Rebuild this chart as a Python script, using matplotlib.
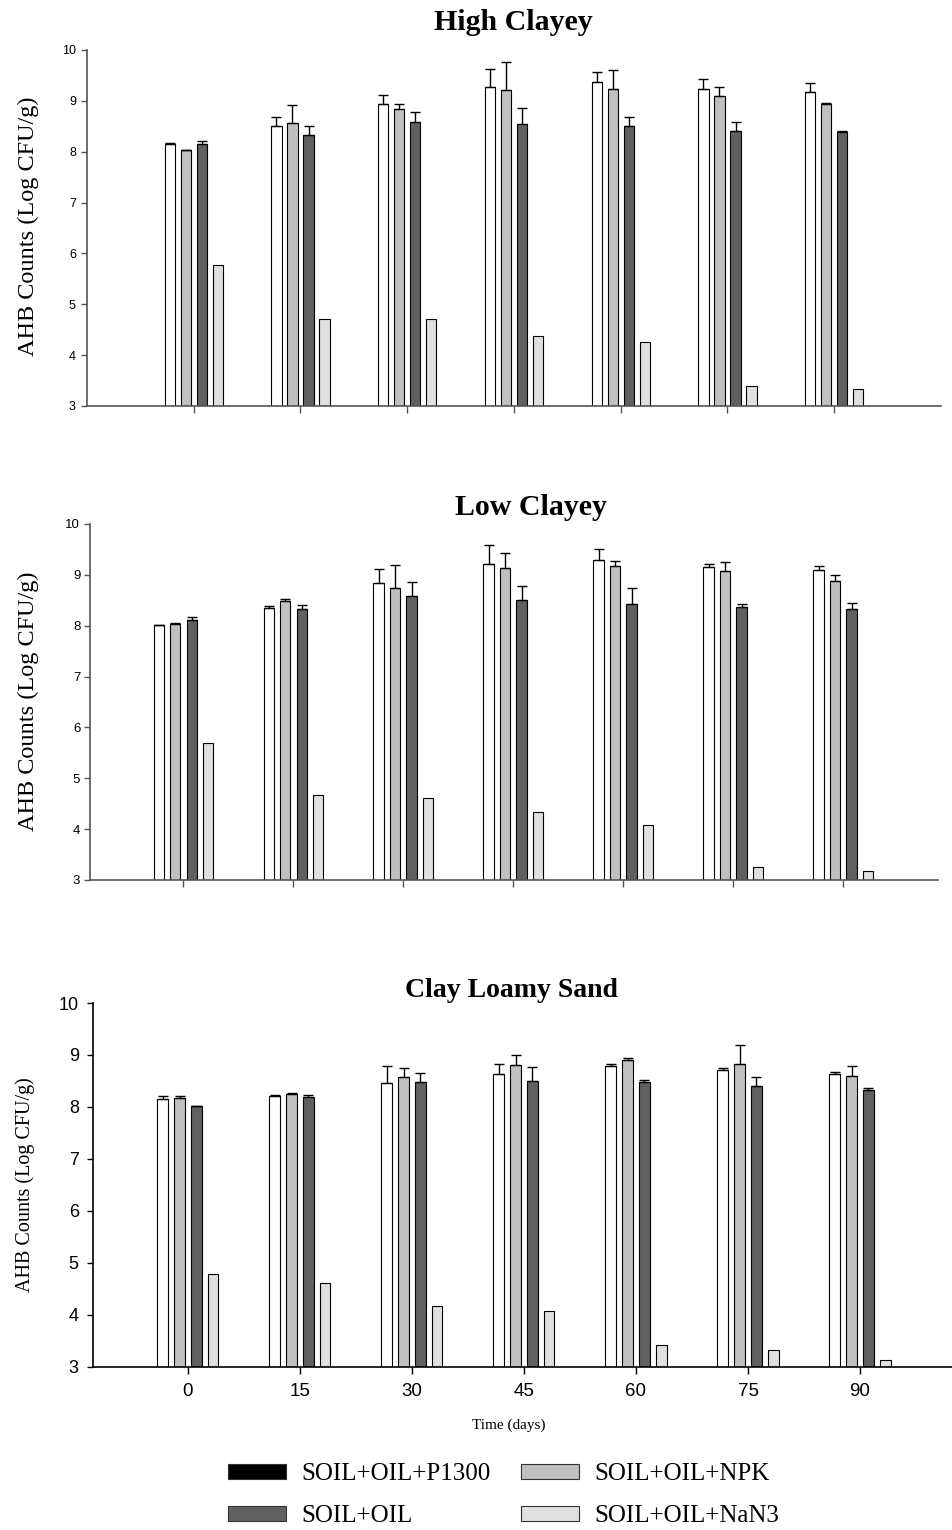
import numpy as np
import matplotlib
matplotlib.use("Agg")
import matplotlib.pyplot as plt
from matplotlib.patches import Patch

days = ["0", "15", "30", "45", "60", "75", "90"]
series_names = ["SOIL+OIL+P1300", "SOIL+OIL+NPK", "SOIL+OIL", "SOIL+OIL+NaN3"]

# High Clayey
hc_p1300 = [8.15, 8.51, 8.94, 9.27, 9.38, 9.24, 9.17]
hc_p1300_err = [0.02, 0.18, 0.18, 0.36, 0.19, 0.18, 0.18]
hc_npk = [8.03, 8.56, 8.84, 9.21, 9.23, 9.09, 8.94]
hc_npk_err = [0.01, 0.35, 0.10, 0.55, 0.37, 0.18, 0.01]
hc_oil = [8.16, 8.33, 8.58, 8.54, 8.51, 8.40, 8.39]
hc_oil_err = [0.05, 0.17, 0.21, 0.31, 0.18, 0.18, 0.01]
hc_nan3 = [5.78, 4.72, 4.72, 4.38, 4.25, 3.40, 3.34]

# Low Clayey
lc_p1300 = [8.01, 8.34, 8.84, 9.21, 9.29, 9.16, 9.10]
lc_p1300_err = [0.005, 0.04, 0.28, 0.37, 0.21, 0.06, 0.07]
lc_npk = [8.03, 8.49, 8.74, 9.14, 9.17, 9.08, 8.88]
lc_npk_err = [0.02, 0.03, 0.45, 0.28, 0.10, 0.17, 0.11]
lc_oil = [8.12, 8.33, 8.58, 8.51, 8.43, 8.37, 8.33]
lc_oil_err = [0.05, 0.08, 0.27, 0.28, 0.32, 0.05, 0.11]
lc_nan3 = [5.70, 4.67, 4.61, 4.33, 4.08, 3.26, 3.18]

# Clay Loamy Sand
cls_p1300 = [8.16, 8.21, 8.46, 8.64, 8.78, 8.72, 8.63]
cls_p1300_err = [0.05, 0.02, 0.32, 0.18, 0.04, 0.03, 0.05]
cls_npk = [8.18, 8.25, 8.57, 8.81, 8.90, 8.83, 8.59]
cls_npk_err = [0.03, 0.01, 0.18, 0.18, 0.05, 0.36, 0.19]
cls_oil = [8.02, 8.20, 8.48, 8.50, 8.48, 8.41, 8.33]
cls_oil_err = [0.005, 0.02, 0.18, 0.27, 0.04, 0.17, 0.04]
cls_nan3 = [4.79, 4.62, 4.16, 4.07, 3.42, 3.33, 3.12]

panels = [
    ("High Clayey", [hc_p1300, hc_npk, hc_oil, hc_nan3], [hc_p1300_err, hc_npk_err, hc_oil_err, None]),
    ("Low Clayey", [lc_p1300, lc_npk, lc_oil, lc_nan3], [lc_p1300_err, lc_npk_err, lc_oil_err, None]),
    ("Clay Loamy Sand", [cls_p1300, cls_npk, cls_oil, cls_nan3], [cls_p1300_err, cls_npk_err, cls_oil_err, None]),
]

W, H = 953, 1530
fig = plt.figure(figsize=(W / 100, H / 100), dpi=100)

def fx(px):
    return px / W

def fy(py):
    return 1 - py / H

# axes pixel boxes: left, right, top, bottom
boxes = [(87, 941, 50, 406), (90, 938, 524, 880), (92.7, 953, 1003, 1366.7)]
xlims = [(-1.0, 7.0), (-0.85, 6.86), (-0.85, 6.83)]
title_pos = [(513, 30), (531, 515), (511.5, 997)]
title_sizes = [21.5, 21.5, 20]
ylabel_pos = [(28, 226.5), (28, 701.5), (25, 1185)]
ylabel_sizes = [17.5, 17.5, 14.5]
ytick_sizes = [9, 9.5, 13]
ytick_pads = [4, 3, 6]
spine_colors = ["#555555", "#555555", "black"]

fills = ["white", "#c0c0c0", "#606060", "#e0e0e0"]
offsets = [-0.225, -0.075, 0.075, 0.225]
width = 0.095
serif = ["Liberation Serif", "DejaVu Serif"]
sans = ["Liberation Sans", "DejaVu Sans"]

x = np.arange(len(days))
for i, (title, vals, errs) in enumerate(panels):
    l, r, t, b = boxes[i]
    ax = fig.add_axes([fx(l), fy(b), fx(r - l), fy(t) - fy(b)])
    for j in range(4):
        v = np.array(vals[j])
        ax.bar(x + offsets[j], v - 3, width=width, bottom=3, color=fills[j],
               edgecolor="black", linewidth=0.8, zorder=2)
        if errs[j] is not None:
            e = np.array(errs[j])
            ax.errorbar(x + offsets[j], v, yerr=[np.zeros_like(e), e], fmt="none",
                        ecolor="black", elinewidth=1.0, capsize=3.6, capthick=1.0, zorder=3)
    ax.set_xlim(*xlims[i])
    ax.set_ylim(3, 10)
    ax.set_yticks(range(3, 11))
    ax.set_xticks(x)
    if i == 2:
        ax.set_xticklabels(days, fontsize=13.5, family=sans)
    else:
        ax.set_xticklabels([])
    for lab in ax.get_yticklabels():
        lab.set_fontsize(ytick_sizes[i])
        lab.set_family(sans)
    ax.tick_params(axis="y", direction="out", length=4, width=1, colors=spine_colors[i],
                   labelcolor="black", pad=ytick_pads[i])
    ax.tick_params(axis="x", direction="out", length=5, width=1, colors=spine_colors[i],
                   labelcolor="black", pad=7)
    for s in ["top", "right"]:
        ax.spines[s].set_visible(False)
    for s in ["left", "bottom"]:
        ax.spines[s].set_color(spine_colors[i])
        ax.spines[s].set_linewidth(1.2)
    fig.text(fx(title_pos[i][0]), fy(title_pos[i][1]), title, ha="center", va="baseline",
             fontsize=title_sizes[i], fontweight="bold", family=serif)
    fig.text(fx(ylabel_pos[i][0]), fy(ylabel_pos[i][1]), "AHB Counts (Log CFU/g)",
             rotation=90, ha="center", va="center", fontsize=ylabel_sizes[i], family=serif)

fig.text(fx(509), fy(1425), "Time (days)", ha="center", va="center", fontsize=11, family=serif)

handles = [
    Patch(facecolor="black", edgecolor="#333333", linewidth=0.8),
    Patch(facecolor="#606060", edgecolor="#333333", linewidth=0.8),
    Patch(facecolor="#c0c0c0", edgecolor="#333333", linewidth=0.8),
    Patch(facecolor="#e0e0e0", edgecolor="#333333", linewidth=0.8),
]
labels = [series_names[0], series_names[2], series_names[1], series_names[3]]
fig.legend(handles, labels, ncol=2, loc="center", bbox_to_anchor=(fx(503.5), fy(1495)),
           frameon=False, prop={"family": serif, "size": 18}, handlelength=2.32,
           handleheight=0.54, handletextpad=0.6, columnspacing=1.24, labelspacing=0.8,
           borderpad=0.2)

fig.savefig("out.png", dpi=100)
